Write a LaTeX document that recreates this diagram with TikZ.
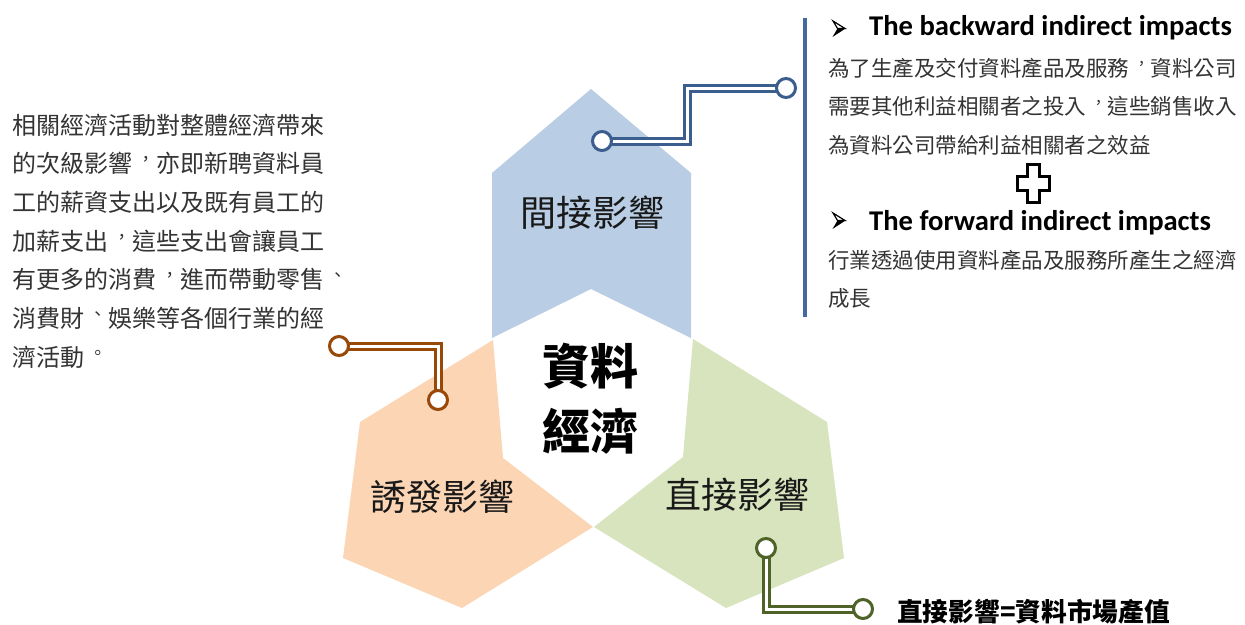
\documentclass[tikz,border=0pt]{standalone}
\usepackage{fontspec}
\usepackage{graphicx}
\newfontfamily\cjk[Script=CJK,Language=Chinese Traditional]{Noto Sans CJK TC}
\newfontfamily\lat{Carlito}
\newcommand\pc[1]{\makebox[1em][l]{\hspace{0.22em}\raisebox{0.3em}[0pt][0pt]{\rlap{\scalebox{0.72}{#1}}}}}
\definecolor{bluefill}{HTML}{B9CDE5}
\definecolor{orangefill}{HTML}{FCD5B5}
\definecolor{greenfill}{HTML}{D7E4BD}
\definecolor{blueline}{HTML}{3B5E8F}
\definecolor{orangeline}{HTML}{984807}
\definecolor{greenline}{HTML}{4F6228}
\definecolor{barline}{HTML}{44699F}
\definecolor{txtgray}{HTML}{333333}
\tikzset{
  txtL/.style={anchor=base west, inner sep=0pt, text=txtgray, font=\cjk\fontsize{24}{28}\selectfont},
  txtR/.style={anchor=base west, inner sep=0pt, text=txtgray, font=\cjk\fontsize{21.5}{26}\selectfont},
  headE/.style={anchor=base west, inner sep=0pt, text=black, font=\lat\bfseries\fontsize{28.6}{32}\selectfont},
  lbl/.style={anchor=base, inner sep=0pt, text=black!90, font=\cjk\fontsize{36}{40}\selectfont},
  conn/.style={line width=3pt, double=white, double distance=3pt, line join=miter},
  dot/.style={circle, fill=white, line width=3pt, minimum size=19pt, inner sep=0pt},
  bulup/.style={draw=black, line width=1.2pt, line join=miter},
  buldn/.style={fill=black}
}
\begin{document}
\begin{tikzpicture}[x=1pt,y=-1pt]
\useasboundingbox (0,0) rectangle (1245,624);
\fill[white] (0,0) rectangle (1245,624);
% hex shapes
\fill[bluefill] (591,89) -- (691,173) -- (691,338) -- (591,289) -- (492,338) -- (492,173) -- cycle;
\fill[orangefill] (493,340) -- (360,422) -- (343,558) -- (462,608) -- (593,527) -- (503,458) -- cycle;
\fill[greenfill] (693,339) -- (827,422) -- (844,558) -- (726,608) -- (594,527) -- (683,457) -- cycle;
% labels
\node[lbl] (lblB) at (592,226.7) {間接影響};
\node[lbl] (lblO) at (442,510.7) {誘發影響};
\node[lbl] (lblG) at (737,508.7) {直接影響};
\node[anchor=base, inner sep=0pt, font=\cjk\bfseries\fontsize{48}{52}\selectfont] (c1) at (590,384) {資料};
\node[anchor=base, inner sep=0pt, font=\cjk\bfseries\fontsize{48}{52}\selectfont] (c2) at (590,449) {經濟};
% connector points
\coordinate (pB1) at (602,141);
\coordinate (kB) at (687,141);
\coordinate (pB2) at (786,88);
\coordinate (pO1) at (339,346);
\coordinate (pO2) at (438,400);
\coordinate (pG1) at (766,548);
\coordinate (pG2) at (863,609);
\draw[conn, draw=blueline] (pB1) -- (kB) |- (pB2);
\draw[conn, draw=orangeline] (pO1) -| (pO2);
\draw[conn, draw=greenline] (pG1) |- (pG2);
\node[dot, draw=blueline] (dB1) at (pB1) {};
\node[dot, draw=blueline] (dB2) at (pB2) {};
\node[dot, draw=orangeline] (dO1) at (pO1) {};
\node[dot, draw=orangeline] (dO2) at (pO2) {};
\node[dot, draw=greenline] (dG1) at (pG1) {};
\node[dot, draw=greenline] (dG2) at (pG2) {};
% vertical bar
\coordinate (barT) at (805,18);
\coordinate (barB) at (805,317);
\draw[barline, line width=4pt] (barT) -- (barB);
% bullets (arrowhead glyphs)
\draw[bulup] (833,21) -- (845,28.5) -- (837.5,28.5) -- cycle;
\fill[buldn] (837.5,28.5) -- (845.5,28.5) -- (832.5,37) -- cycle;
\draw[bulup] (833,213) -- (845,220.5) -- (837.5,220.5) -- cycle;
\fill[buldn] (837.5,220.5) -- (845.5,220.5) -- (832.5,229) -- cycle;
% right texts
\node[headE] (h1) at (869,35) {The backward indirect impacts};
\node[txtR] (r1) at (828,76.2) {為了生產及交付資料產品及服務\pc{，}資料公司};
\node[txtR] (r2) at (828,114.7) {需要其他利益相關者之投入\pc{，}這些銷售收入};
\node[txtR] (r3) at (828,153.2) {為資料公司帶給利益相關者之效益};
\draw[black, fill=white, line width=3pt, line join=miter] (1027,164) -- (1039,164) -- (1039,176) -- (1049,176) -- (1049,190) -- (1039,190) -- (1039,202) -- (1027,202) -- (1027,190) -- (1017,190) -- (1017,176) -- (1027,176) -- cycle;
\node[headE] (h2) at (869,230) {The forward indirect impacts};
\node[txtR] (r4) at (828,268.2) {行業透過使用資料產品及服務所產生之經濟};
\node[txtR] (r5) at (828,306.7) {成長};
% left text
\node[txtL] (l1) at (12,134.1) {相關經濟活動對整體經濟帶來};
\node[txtL] (l2) at (12,172.8) {的次級影響\pc{，}亦即新聘資料員};
\node[txtL] (l3) at (12,211.5) {工的薪資支出以及既有員工的};
\node[txtL] (l4) at (12,250.2) {加薪支出\pc{，}這些支出會讓員工};
\node[txtL] (l5) at (12,288.9) {有更多的消費\pc{，}進而帶動零售\pc{、}};
\node[txtL] (l6) at (12,327.6) {消費財\pc{、}娛樂等各個行業的經};
\node[txtL] (l7) at (12,366.3) {濟活動\pc{。}};
% bottom text
\node[anchor=base west, inner sep=0pt, font=\cjk\bfseries\fontsize{25.7}{30}\selectfont] (bt) at (897,621.5) {直接影響=資料市場產值};
\end{tikzpicture}
\end{document}
